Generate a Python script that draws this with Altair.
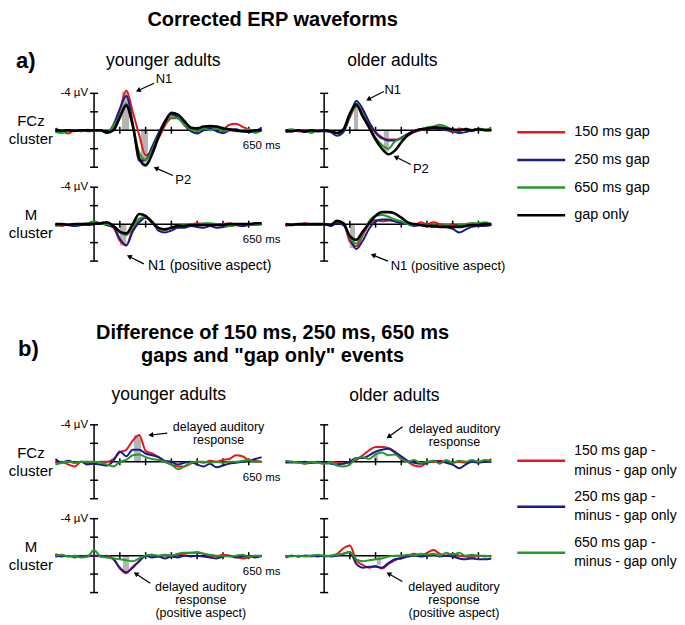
import math
import altair as alt
import pandas as pd

# ---------------- data (µV, negative plotted upwards) ----------------
T = [-150, -125, -100, -75, -50, -25, 0, 25, 50, 75, 100, 125, 150, 175, 200, 225,
     250, 275, 300, 325, 350, 375, 400, 425, 450, 475, 500, 525, 550, 575, 600, 625, 650]

# a) corrected ERP waveforms
A_YA_FCZ_150 = [0.2, 0.1, 0.35, 0.0, 0.1, -0.05, 0.05, 0.0, 0.25, -0.3, -2.2, -4.3, -2.0, 0.5, 2.7, 2.2, 0.9, -0.5, -1.3, -1.3, -0.6, 0.0, -0.1, -0.2, -0.3, -0.2, -0.1, -0.6, -0.7, -0.4, -0.1, 0.1, 0.0]
A_YA_FCZ_250 = [-0.2, 0.1, 0.0, 0.1, 0.0, 0.1, 0.05, 0.0, 0.3, -0.6, -2.3, -3.7, -0.8, 3.3, 3.2, 1.8, 0.3, -1.0, -1.7, -1.4, -0.6, 0.1, 0.35, 0.0, -0.2, 0.1, 0.3, 0.0, -0.1, 0.1, 0.2, 0.1, -0.3]
A_YA_FCZ_650 = [0.2, 0.3, 0.1, 0.0, 0.1, 0.0, 0.05, 0.0, 0.3, -0.5, -1.6, -2.9, -0.6, 2.4, 3.2, 2.2, 0.5, -0.8, -1.4, -1.3, -0.6, -0.1, 0.1, -0.2, 0.0, -0.2, 0.1, 0.0, 0.1, 0.0, -0.1, 0.3, 0.0]
A_YA_FCZ_GAP = [0.0, 0.05, 0.0, 0.05, 0.0, 0.0, 0.0, 0.0, 0.25, 0.0, -1.4, -2.7, -0.5, 3.0, 3.8, 2.6, 0.7, -0.9, -1.9, -1.7, -1.0, -0.3, -0.2, -0.4, -0.45, -0.4, -0.2, -0.1, 0.0, 0.1, 0.1, 0.0, 0.0]

A_OA_FCZ_150 = [0.1, 0.0, 0.1, 0.2, 0.1, 0.0, 0.0, 0.1, 0.3, 0.0, -1.4, -2.6, -2.0, -0.7, 0.3, 0.9, 1.0, 1.0, 0.9, 0.6, 0.2, 0.0, -0.2, -0.3, -0.2, -0.1, 0.2, -0.2, 0.0, 0.1, -0.1, 0.0, -0.3]
A_OA_FCZ_250 = [0.2, 0.1, 0.0, 0.2, 0.0, 0.1, 0.1, 0.2, 0.6, 0.2, -1.5, -3.2, -2.3, -0.9, 0.2, 0.8, 1.1, 1.1, 0.8, 0.4, 0.1, -0.1, -0.1, -0.2, -0.1, 0.0, 0.1, 0.3, 0.2, 0.0, -0.1, 0.0, 0.0]
A_OA_FCZ_650 = [0.0, -0.1, 0.1, 0.0, 0.3, 0.0, 0.0, 0.1, 0.3, 0.0, -1.6, -2.6, -1.8, -0.3, 0.8, 1.6, 2.0, 1.2, 0.9, 0.5, 0.1, -0.1, -0.3, -0.4, -0.6, -0.4, 0.0, 0.1, -0.2, 0.0, -0.2, -0.1, -0.1]
A_OA_FCZ_GAP = [0.0, 0.1, 0.0, 0.1, 0.0, 0.1, 0.0, 0.1, 0.3, -0.1, -1.8, -2.8, -1.5, -0.3, 1.0, 2.0, 2.6, 2.2, 1.3, 0.5, 0.1, -0.1, -0.2, -0.3, -0.3, -0.2, -0.1, 0.0, -0.1, 0.0, -0.1, 0.0, 0.0]

A_YA_M_150 = [0.0, 0.2, 0.0, 0.1, 0.0, 0.1, 0.0, -0.1, 0.1, 0.4, 1.8, 2.3, 0.5, -0.3, -0.7, -0.2, 0.5, 0.65, 0.4, 0.2, 0.3, 0.1, -0.1, 0.0, 0.2, 0.1, 0.0, -0.1, 0.1, 0.2, 0.0, 0.1, 0.0]
A_YA_M_250 = [0.1, 0.0, 0.1, 0.2, 0.1, 0.0, 0.0, -0.1, 0.1, 0.3, 1.6, 2.3, 0.8, -0.2, -0.7, -0.3, 0.7, 0.9, 0.7, 0.4, 0.4, 0.2, 0.3, 0.4, 0.2, 0.4, 0.3, 0.2, 0.1, 0.2, 0.1, 0.0, 0.0]
A_YA_M_650 = [0.2, 0.1, 0.0, 0.1, 0.0, -0.1, -0.3, -0.1, 0.0, 0.2, 0.9, 1.2, 0.3, -0.6, -0.8, -0.3, 0.5, 0.6, 0.4, 0.2, 0.1, 0.0, 0.1, -0.1, -0.1, 0.0, 0.1, 0.2, 0.1, 0.0, 0.1, 0.0, 0.0]
A_YA_M_GAP = [0.0, 0.0, 0.1, 0.0, 0.0, 0.0, -0.05, -0.1, -0.2, 0.2, 0.8, 1.0, 0.0, -1.1, -0.9, -0.2, 0.4, 0.55, 0.4, 0.2, 0.2, 0.1, 0.1, 0.1, 0.1, 0.1, 0.1, 0.0, 0.0, 0.0, 0.0, -0.1, -0.1]

A_OA_M_150 = [0.2, 0.0, 0.1, -0.1, 0.1, 0.0, 0.0, 0.0, -0.2, -0.1, 1.9, 2.4, 1.2, 0.0, -0.45, -0.3, -0.4, -0.3, -0.1, 0.0, 0.1, -0.2, 0.0, -0.2, 0.0, 0.1, 0.1, 0.2, 0.0, -0.1, 0.1, 0.0, 0.1]
A_OA_M_250 = [0.1, 0.0, 0.0, 0.1, 0.0, 0.1, 0.0, 0.2, -0.1, 0.1, 1.5, 2.7, 1.8, 0.5, -0.3, -0.5, -0.5, -0.3, -0.1, 0.0, 0.2, 0.1, 0.2, 0.3, 0.2, 0.3, 0.5, 0.9, 0.6, 0.3, 0.2, 0.2, 0.1]
A_OA_M_650 = [0.1, 0.0, 0.1, 0.0, 0.1, 0.0, 0.0, 0.1, -0.3, -0.1, 1.5, 2.1, 1.0, -0.3, -0.9, -1.0, -0.8, -0.5, -0.3, 0.0, 0.1, 0.1, 0.2, 0.1, 0.2, 0.1, 0.2, 0.1, 0.0, -0.1, -0.1, -0.2, 0.0]
A_OA_M_GAP = [0.0, 0.1, 0.0, 0.0, 0.0, 0.0, 0.0, 0.1, -0.35, -0.1, 1.3, 1.7, 0.8, -0.1, -0.9, -1.3, -1.3, -1.15, -0.7, -0.2, 0.0, 0.1, 0.2, 0.2, 0.3, 0.3, 0.3, 0.3, 0.2, 0.1, 0.1, 0.0, 0.0]

# b) differences (gap minus gap only)
B_YA_FCZ_150 = [0.1, 0.0, 0.3, 0.5, 0.0, 0.1, 0.1, 0.0, 0.0, -0.3, -1.0, -1.3, -2.3, -2.9, -1.2, -0.9, -0.5, 0.0, 0.3, 0.5, 0.5, 0.2, 0.0, 0.1, -0.1, 0.0, -0.2, -0.3, -0.7, -0.6, -0.2, -0.1, 0.0]
B_YA_FCZ_250 = [-0.3, 0.1, -0.1, 0.1, 0.0, 0.3, 0.2, 0.3, 0.4, -0.1, -1.1, -0.6, -1.3, -1.3, -0.9, -0.7, -0.5, -0.1, 0.0, 0.3, 0.1, 0.0, 0.3, 0.5, 0.2, 0.6, 0.4, 0.2, 0.1, 0.0, -0.1, -0.3, -0.5]
B_YA_FCZ_650 = [0.3, 0.1, 0.0, 0.1, 0.0, 0.0, 0.0, 0.1, 0.3, 0.5, 0.0, -0.2, -0.7, -0.8, -0.5, -0.3, -0.2, 0.0, 0.3, 0.8, 0.5, 0.1, 0.0, 0.0, 0.1, 0.0, 0.1, 0.0, 0.0, -0.1, -0.2, 0.0, 0.0]

B_OA_FCZ_150 = [0.0, 0.1, 0.0, 0.2, 0.1, 0.1, 0.2, 0.0, 0.1, 0.2, 0.0, -0.2, -0.7, -1.25, -1.6, -1.6, -1.5, -1.1, -0.5, 0.0, 0.4, 0.5, 0.1, 0.0, -0.1, 0.0, 0.1, 0.0, 0.1, -0.1, 0.0, 0.0, -0.3]
B_OA_FCZ_250 = [0.1, 0.0, 0.1, 0.0, 0.1, 0.0, 0.1, 0.2, 0.3, 0.2, 0.0, -0.4, -0.4, -0.7, -1.1, -1.3, -1.4, -1.0, -0.6, -0.1, 0.1, 0.2, 0.1, -0.1, 0.0, 0.1, 0.3, 0.7, 0.3, 0.0, 0.1, 0.0, 0.0]
B_OA_FCZ_650 = [-0.1, 0.0, 0.1, 0.2, 0.0, 0.1, 0.2, 0.1, 0.4, 0.5, 0.3, -0.4, -0.5, -0.3, -0.8, -1.0, -0.7, -0.8, -0.3, 0.0, -0.2, 0.1, 0.0, -0.1, 0.2, -0.2, 0.1, -0.1, 0.0, -0.2, 0.0, -0.2, -0.1]

B_YA_M_150 = [-0.2, 0.1, 0.0, 0.2, 0.0, 0.1, 0.0, 0.1, 0.0, 0.3, 1.4, 1.9, 1.2, 0.6, 0.0, -0.1, 0.1, -0.1, 0.0, -0.1, -0.2, -0.3, -0.3, -0.2, 0.0, 0.1, -0.1, 0.0, 0.1, 0.3, 0.2, 0.0, 0.1]
B_YA_M_250 = [0.1, 0.0, 0.1, 0.0, 0.1, 0.0, 0.0, 0.0, 0.1, 0.4, 1.3, 1.8, 1.3, 0.6, 0.0, 0.2, 0.1, 0.3, 0.1, 0.2, 0.0, 0.1, 0.0, 0.1, 0.2, 0.3, 0.1, 0.0, 0.2, 0.1, 0.0, 0.2, 0.0]
B_YA_M_650 = [0.0, -0.1, 0.1, 0.0, 0.2, 0.1, -0.6, 0.1, 0.2, 0.3, 0.4, 0.5, 0.6, 0.3, 0.0, -0.1, 0.0, -0.1, 0.0, -0.2, -0.3, -0.3, -0.4, -0.2, -0.1, 0.0, 0.0, 0.1, 0.0, -0.1, 0.1, 0.0, 0.0]

B_OA_M_150 = [0.2, 0.0, 0.1, 0.0, 0.1, 0.0, 0.1, 0.0, -0.2, -0.8, -1.1, 0.5, 1.0, 1.3, 1.1, 1.4, 0.9, 0.5, 0.2, 0.0, -0.2, 0.0, -0.3, -0.6, -0.2, 0.0, -0.2, 0.0, 0.1, 0.2, 0.0, 0.1, 0.0]
B_OA_M_250 = [0.1, 0.0, 0.1, 0.0, 0.0, 0.1, 0.0, 0.1, 0.0, -0.2, -0.4, 0.9, 1.3, 1.2, 1.2, 1.3, 0.8, 0.4, 0.3, 0.1, 0.0, 0.1, 0.0, -0.1, 0.1, 0.0, 0.1, 0.3, 0.4, 0.3, 0.4, 0.4, 0.3]
B_OA_M_650 = [0.0, 0.1, 0.0, 0.1, 0.0, -0.1, 0.0, 0.0, -0.1, -0.2, -0.4, 0.4, 0.6, 0.5, 0.4, 0.3, 0.1, 0.0, 0.0, -0.1, 0.0, -0.2, -0.1, -0.2, 0.0, -0.3, -0.1, -0.3, 0.0, -0.1, 0.0, 0.0, 0.1]

# grey shaded latency windows: (t start, t end, amplitude)
A_YA_FCZ_SHADE = [(108, 136, -4.2), (182, 209, 3.7)]
A_OA_FCZ_SHADE = [(116, 132, -3.1), (232, 252, 2.3)]
A_YA_M_SHADE = [(100, 125, 2.3)]
A_OA_M_SHADE = [(100, 120, 2.6)]
B_YA_FCZ_SHADE = [(155, 182, -2.9)]
B_OA_FCZ_SHADE = [(194, 209, -1.0)]
B_YA_M_SHADE = [(112, 136, 1.7)]
B_OA_M_SHADE = [(205, 221, 1.0)]

# annotations: text anchor (t, µV) and arrow (tail t, tail µV, head t, head µV)
A_YA_FCZ_NOTES = [("N1", 271, -5.6), ("P2", 346, 5.4)]
A_YA_FCZ_ARROWS = [(233, -5.1, 171, -4.3), (306, 4.9, 240, 4.1)]
A_OA_FCZ_NOTES = [("N1", 267, -4.4), ("P2", 376, 4.2)]
A_OA_FCZ_ARROWS = [(232, -4.2, 172, -3.35), (337, 3.7, 279, 2.9)]
A_YA_M_NOTES = [("N1 (positive aspect)", 209, 4.5)]
A_YA_M_ARROWS = [(193, 4.3, 136, 3.5)]
A_OA_M_NOTES = [("N1 (positive aspect)", 259, 4.5)]
A_OA_M_ARROWS = [(248, 4.0, 190, 3.35)]
B_YA_FCZ_NOTES = [("delayed auditory\nresponse", 483, -3.1)]
B_YA_FCZ_ARROWS = [(284, -3.1, 220, -2.9)]
B_OA_FCZ_NOTES = [("delayed auditory\nresponse", 507, -2.8)]
B_OA_FCZ_ARROWS = [(305, -3.8, 251, -2.7)]
B_YA_M_NOTES = [("delayed auditory\nresponse\n(positive aspect)", 414, 4.85)]
B_YA_M_ARROWS = [(218, 3.0, 162, 1.95)]
B_OA_M_NOTES = [("delayed auditory\nresponse\n(positive aspect)", 505, 4.85)]
B_OA_M_ARROWS = [(304, 2.8, 251, 1.95)]

SERIES_A = ["150 ms gap", "250 ms gap", "650 ms gap", "gap only"]
SERIES_B = ["150 ms gap -\nminus - gap only", "250 ms gap -\nminus - gap only",
            "650 ms gap -\nminus - gap only"]
RED, BLUE, GREEN, BLACK = "#e8171d", "#1a1a8a", "#229a2a", "#000000"
COLORS_A = [RED, BLUE, GREEN, BLACK]
COLORS_B = [RED, BLUE, GREEN]

AXIS_T = (-150, 650)
AXIS_V = (-4, 4)
V_TICKS = [-4, -2, 2, 4]
T_TICKS = [100, 200, 300, 400, 500, 600]

# ---------------- styling ----------------
FONT = "Liberation Sans"
PX_MS = 0.2585
PX_UV = 9.25
W_YOUNG = 253
W_OLD = 206
W_LEG = 150
PANEL_H = 74
NOTE_LH = 13


def panel(series, colors, shades, notes, arrows, row_label, young, note_size=13):
    xs = alt.Scale(domain=[-330 if young else -150, 650])
    ys = alt.Scale(domain=[-4, 4], reverse=True)

    def X(f):
        return alt.X(f"{f}:Q", scale=xs, axis=None)

    def Y(f):
        return alt.Y(f"{f}:Q", scale=ys, axis=None)

    layers = []
    sd = pd.DataFrame(shades, columns=["t1", "t2", "v"]).assign(z=0.0)
    layers.append(alt.Chart(sd).mark_rect(color="#b5b5b5").encode(
        x=X("t1"), x2="t2", y=Y("z"), y2="v"))

    hd = pd.DataFrame({"t1": [AXIS_T[0]], "t2": [AXIS_T[1]], "v": [0.0]})
    layers.append(alt.Chart(hd).mark_rule(color="black", strokeWidth=1.5).encode(
        x=X("t1"), x2="t2", y=Y("v")))
    vd = pd.DataFrame({"t": [0.0], "v1": [AXIS_V[0]], "v2": [AXIS_V[1]]})
    layers.append(alt.Chart(vd).mark_rule(color="black", strokeWidth=1.5).encode(
        x=X("t"), y=Y("v1"), y2="v2"))
    vt = pd.DataFrame({"t": [0.0] * len(V_TICKS), "v": V_TICKS})
    layers.append(alt.Chart(vt).mark_tick(orient="horizontal", size=8, thickness=1.5,
                                          color="black", opacity=1).encode(x=X("t"), y=Y("v")))
    tt = pd.DataFrame({"t": T_TICKS, "v": [0.0] * len(T_TICKS)})
    layers.append(alt.Chart(tt).mark_tick(orient="vertical", size=7, thickness=1.5,
                                          color="black", opacity=1).encode(x=X("t"), y=Y("v")))

    for vals, c in zip(series, colors):
        df = pd.DataFrame({"t": T, "v": vals})
        layers.append(alt.Chart(df).mark_line(
            color=c, strokeWidth=2.6 if c == BLACK else 2.0, interpolate="monotone"
        ).encode(x=X("t"), y=Y("v")))

    if young:
        ld = pd.DataFrame({"t": [0.0], "v": [-4.0], "text": ["-4 µV"]})
        layers.append(alt.Chart(ld).mark_text(align="right", baseline="middle", dx=-6,
                                              fontSize=11.5, font=FONT).encode(
            x=X("t"), y=Y("v"), text="text:N"))
        md = pd.DataFrame({"t": [650.0], "v": [1.75], "text": ["650 ms"]})
        layers.append(alt.Chart(md).mark_text(align="center", baseline="middle",
                                              fontSize=11.5, font=FONT).encode(
            x=X("t"), y=Y("v"), text="text:N"))
        rd = pd.DataFrame({"t": [-245.0], "v": [0.0], "text": [row_label]})
        layers.append(alt.Chart(rd).mark_text(align="center", baseline="middle",
                                              fontSize=15, font=FONT, lineBreak="\n",
                                              lineHeight=18, dy=-9).encode(
            x=X("t"), y=Y("v"), text="text:N"))

    ad = pd.DataFrame(arrows, columns=["t1", "v1", "t2", "v2"])
    ad["angle"] = [
        math.degrees(math.atan2((r.t2 - r.t1) * PX_MS, (r.v2 - r.v1) * -PX_UV)) % 360
        for r in ad.itertuples()
    ]
    layers.append(alt.Chart(ad).mark_rule(color="black", strokeWidth=1.2).encode(
        x=X("t1"), y=Y("v1"), x2="t2", y2="v2"))
    layers.append(alt.Chart(ad).mark_point(shape="triangle-up", filled=True, size=32,
                                           color="black", opacity=1).encode(
        x=X("t2"), y=Y("v2"), angle=alt.Angle("angle:Q", scale=None)))

    for text, t, v in notes:
        nd = pd.DataFrame({"t": [t], "v": [v], "text": [text]})
        align = "left" if text.startswith("N1 (") else "center"
        n_lines = text.count("\n") + 1
        size = note_size if n_lines == 1 else 12.5
        layers.append(alt.Chart(nd).mark_text(align=align, baseline="middle",
                                              fontSize=size, font=FONT,
                                              lineBreak="\n", lineHeight=NOTE_LH,
                                              dy=-(n_lines - 1) * NOTE_LH / 2).encode(
            x=X("t"), y=Y("v"), text="text:N"))

    return alt.layer(*layers).properties(width=W_YOUNG if young else W_OLD, height=PANEL_H)


def legend(labels, colors, rng, size, line_height):
    df = pd.DataFrame({"label": labels})
    ys = alt.Scale(type="point", domain=labels, range=rng, padding=0)
    col = alt.Color("label:N", scale=alt.Scale(domain=labels, range=colors), legend=None)
    n_lines = labels[0].count("\n") + 1
    lines = alt.Chart(df).mark_rule(strokeWidth=2.5).encode(
        x=alt.value(2), x2=alt.value(50),
        y=alt.Y("label:N", scale=ys, axis=None), color=col)
    texts = alt.Chart(df).mark_text(align="left", baseline="middle", fontSize=size,
                                    font=FONT, lineBreak="\n", lineHeight=line_height,
                                    dy=-(n_lines - 1) * line_height / 2).encode(
        x=alt.value(59), y=alt.Y("label:N", scale=ys, axis=None), text="label:N")
    return alt.layer(lines, texts).properties(width=W_LEG, height=PANEL_H)


def text_cell(width, height, items):
    layers = []
    for text, px, py, size, bold, align in items:
        layers.append(alt.Chart(pd.DataFrame({"text": [text]})).mark_text(
            align=align, baseline="alphabetic", fontSize=size,
            fontWeight="bold" if bold else "normal", font=FONT, color="black"
        ).encode(x=alt.value(px), y=alt.value(py), text="text:N"))
    return alt.layer(*layers).properties(width=width, height=height)


def blank(width, height):
    return alt.Chart(pd.DataFrame({"text": [""]})).mark_text().encode(
        text="text:N").properties(width=width, height=height)


HEAD_A = 65
HEAD_B = 124

head_a_young = text_cell(W_YOUNG, HEAD_A, [
    ("Corrected ERP waveforms", 264, 18, 20, True, "center"),
    ("a)", 7, 60, 22, True, "left"),
    ("younger adults", 154.5, 58, 17.5, False, "center"),
])
head_a_old = text_cell(W_OLD, HEAD_A, [("older adults", 107, 58, 17.5, False, "center")])
head_b_young = text_cell(W_YOUNG, HEAD_B, [
    ("Difference of 150 ms, 250 ms, 650 ms", 264, 58, 20, True, "center"),
    ('gaps and "gap only" events', 264, 81, 20, True, "center"),
    ("b)", 9, 75, 22, True, "left"),
    ("younger adults", 160, 119, 17.5, False, "center"),
])
head_b_old = text_cell(W_OLD, HEAD_B, [("older adults", 109, 120, 17.5, False, "center")])

p_a_ya_fcz = panel([A_YA_FCZ_150, A_YA_FCZ_250, A_YA_FCZ_650, A_YA_FCZ_GAP], COLORS_A,
                   A_YA_FCZ_SHADE, A_YA_FCZ_NOTES, A_YA_FCZ_ARROWS, "FCz\ncluster", True)
p_a_ya_m = panel([A_YA_M_150, A_YA_M_250, A_YA_M_650, A_YA_M_GAP], COLORS_A,
                 A_YA_M_SHADE, A_YA_M_NOTES, A_YA_M_ARROWS, "M\ncluster", True, note_size=14)
p_a_oa_fcz = panel([A_OA_FCZ_150, A_OA_FCZ_250, A_OA_FCZ_650, A_OA_FCZ_GAP], COLORS_A,
                   A_OA_FCZ_SHADE, A_OA_FCZ_NOTES, A_OA_FCZ_ARROWS, "", False)
p_a_oa_m = panel([A_OA_M_150, A_OA_M_250, A_OA_M_650, A_OA_M_GAP], COLORS_A,
                 A_OA_M_SHADE, A_OA_M_NOTES, A_OA_M_ARROWS, "", False)

p_b_ya_fcz = panel([B_YA_FCZ_150, B_YA_FCZ_250, B_YA_FCZ_650], COLORS_B,
                   B_YA_FCZ_SHADE, B_YA_FCZ_NOTES, B_YA_FCZ_ARROWS, "FCz\ncluster", True)
p_b_ya_m = panel([B_YA_M_150, B_YA_M_250, B_YA_M_650], COLORS_B,
                 B_YA_M_SHADE, B_YA_M_NOTES, B_YA_M_ARROWS, "M\ncluster", True)
p_b_oa_fcz = panel([B_OA_FCZ_150, B_OA_FCZ_250, B_OA_FCZ_650], COLORS_B,
                   B_OA_FCZ_SHADE, B_OA_FCZ_NOTES, B_OA_FCZ_ARROWS, "", False)
p_b_oa_m = panel([B_OA_M_150, B_OA_M_250, B_OA_M_650], COLORS_B,
                 B_OA_M_SHADE, B_OA_M_NOTES, B_OA_M_ARROWS, "", False)

legend_a = legend(SERIES_A, COLORS_A, [39, 122], 14.5, 18)
legend_b = legend(SERIES_B, COLORS_B, [36, 128], 14, 19.5)

cells = [
    head_a_young, head_a_old, blank(W_LEG, HEAD_A),
    p_a_ya_fcz, p_a_oa_fcz, legend_a,
    p_a_ya_m, p_a_oa_m, blank(W_LEG, PANEL_H),
    head_b_young, head_b_old, blank(W_LEG, HEAD_B),
    p_b_ya_fcz, p_b_oa_fcz, legend_b,
    p_b_ya_m, p_b_oa_m, blank(W_LEG, PANEL_H),
]

chart = alt.concat(*cells, columns=3, spacing={"row": 20, "column": 24}, bounds="flush") \
    .properties(padding=0) \
    .configure(font=FONT) \
    .configure_view(stroke=None)

chart.save("out.html", embed_options={"renderer": "svg", "actions": False})
